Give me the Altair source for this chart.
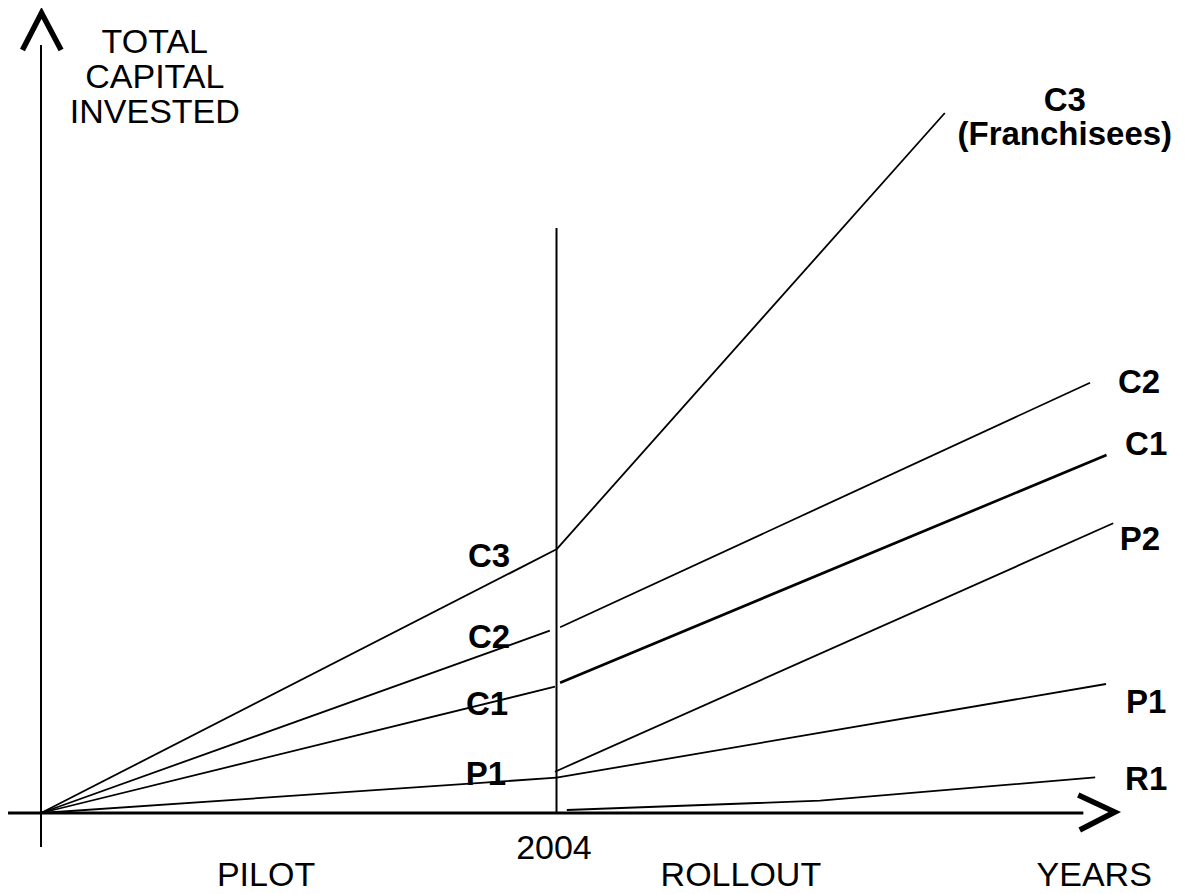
import altair as alt
import pandas as pd

# ---------------- data (time: 0 = pilot start, 10 = 2004; capital: arbitrary units) -------------
line_segment = ["C3 pilot", "C3 pilot", "C3 rollout", "C3 rollout",
                "C2 pilot", "C2 pilot", "C2 rollout", "C2 rollout",
                "C1 pilot", "C1 pilot", "C1 rollout", "C1 rollout",
                "P1 pilot", "P1 pilot", "P1 rollout", "P1 rollout",
                "P2 rollout", "P2 rollout",
                "R1 rollout", "R1 rollout", "R1 rollout"]
line_time = [0, 10.01, 10.01, 17.55,
             0, 9.88, 10.08, 20.37,
             0, 9.98, 10.08, 20.69,
             0, 10.01, 10.01, 20.68,
             9.98, 20.82,
             10.21, 15.13, 20.47]
line_capital = [0, 26.37, 26.37, 70.0,
                0, 18.23, 18.57, 43.03,
                0, 12.63, 13.03, 35.8,
                0, 3.53, 3.53, 12.9,
                4.13, 28.97,
                0.3, 1.23, 3.57]

divider_time = [10.01, 10.01]
divider_capital = [0, 58.5]

label_text = ["C3", "C2", "C1", "P1", "C3", "(Franchisees)", "C2", "C1", "P2", "P1", "R1"]
label_time = [8.70, 8.70, 8.66, 8.64, 19.88, 19.88, 21.32, 21.46, 21.34, 21.46, 21.46]
label_capital = [24.6, 16.5, 9.8, 2.8, 70.2, 66.8, 42.0, 35.8, 26.3, 10.0, 2.3]

axis_text = ["TOTAL", "CAPITAL", "INVESTED", "2004", "PILOT", "ROLLOUT", "YEARS"]
axis_text_time = [2.21, 2.21, 2.21, 9.96, 4.37, 13.59, 20.45]
axis_text_capital = [76.0, 72.55, 69.03, -4.6, -7.3, -7.3, -7.3]

axis_name = ["y", "y", "x", "x"]
axis_time = [0, 0, -0.64, 20.24]
axis_capital = [-3.4, 76.8, 0, 0]

arrow_name = ["up", "up", "up", "right", "right", "right"]
arrow_time = [-0.36, 0.01, 0.39, 20.14, 20.85, 20.17]
arrow_capital = [76.3, 80.0, 76.3, 1.8, 0.1, -1.7]

# ---------------- styles ----------------
thick_segments = ["C1 rollout"]
FONT = "Liberation Sans"

lines_df = pd.DataFrame({"seg": line_segment, "t": line_time, "c": line_capital})
lines_df["thick"] = lines_df["seg"].isin(thick_segments)
divider_df = pd.DataFrame({"t": divider_time, "c": divider_capital})
labels_df = pd.DataFrame({"txt": label_text, "t": label_time, "c": label_capital})
axis_text_df = pd.DataFrame({"txt": axis_text, "t": axis_text_time, "c": axis_text_capital})
axis_df = pd.DataFrame({"ax": axis_name, "t": axis_time, "c": axis_capital})
arrow_df = pd.DataFrame({"ar": arrow_name, "t": arrow_time, "c": arrow_capital,
                         "i": list(range(len(arrow_name)))})

XS = alt.Scale(domain=[-0.6408, 22.0583], nice=False, zero=False)
YS = alt.Scale(domain=[-8.1, 80.5], nice=False, zero=False)
X = alt.X("t:Q", scale=XS, axis=None)
Y = alt.Y("c:Q", scale=YS, axis=None)

thin = alt.Chart(lines_df).transform_filter("!datum.thick").mark_line(
    color="black", strokeWidth=1.8).encode(x=X, y=Y, detail="seg:N")
thick = alt.Chart(lines_df).transform_filter("datum.thick").mark_line(
    color="black", strokeWidth=2.7).encode(x=X, y=Y, detail="seg:N")
divider = alt.Chart(divider_df).mark_line(color="black", strokeWidth=2).encode(x=X, y=Y)
yaxis = alt.Chart(axis_df).transform_filter("datum.ax == 'y'").mark_line(
    color="black", strokeWidth=2).encode(x=X, y=Y)
xaxis = alt.Chart(axis_df).transform_filter("datum.ax == 'x'").mark_line(
    color="black", strokeWidth=3).encode(x=X, y=Y)
arrows = alt.Chart(arrow_df).mark_line(color="black", strokeWidth=5.5, strokeJoin="miter").encode(
    x=X, y=Y, detail="ar:N", order="i:Q")
labels = alt.Chart(labels_df).mark_text(
    font=FONT, fontSize=33, fontWeight="bold", align="center", baseline="alphabetic",
    color="black").encode(x=X, y=Y, text="txt:N")
axis_labels = alt.Chart(axis_text_df).mark_text(
    font=FONT, fontSize=34, align="center", baseline="alphabetic",
    color="black").encode(x=X, y=Y, text="txt:N")

chart = alt.layer(thin, thick, divider, yaxis, xaxis, arrows, labels, axis_labels).properties(
    width=1169, height=886, padding=0,
    autosize=alt.AutoSizeParams(type="none"),
).configure_view(stroke=None)

chart.save("out.html", embed_options={"renderer": "svg", "actions": False})
